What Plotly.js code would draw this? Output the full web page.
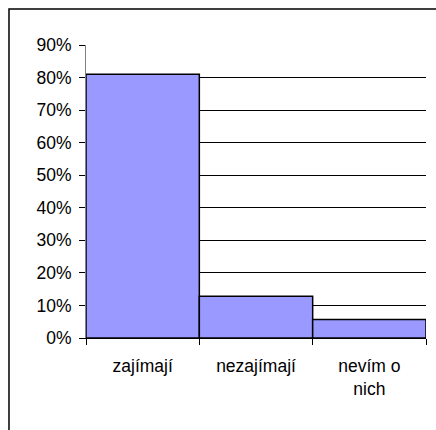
<!DOCTYPE html>
<html>
<head>
<meta charset="utf-8">
<script src="https://cdn.plot.ly/plotly-3.0.1.min.js"></script>
<style>html,body{margin:0;padding:0;background:#fff;}</style>
</head>
<body>
<div id="chart" style="width:436px;height:430px;"></div>
<script>
const categories = ["zajímají", "nezajímají", "nevím o<br>nich"];
const values = [0.81, 0.128, 0.057];
const yTickVals = [0, 0.1, 0.2, 0.3, 0.4, 0.5, 0.6, 0.7, 0.8, 0.9];
const yTickText = ["0%", "10%", "20%", "30%", "40%", "50%", "60%", "70%", "80%", "90%"];

const font = {family: "Liberation Sans, Arial, sans-serif", size: 17.5, color: "#000"};

Plotly.newPlot("chart", [{
  type: "bar",
  x: categories,
  y: values,
  marker: {color: "#9999ff", line: {color: "#000", width: 1.5}},
  hoverinfo: "none"
}], {
  width: 436, height: 430,
  margin: {l: 86, r: 10, t: 45, b: 92},
  paper_bgcolor: "#fff", plot_bgcolor: "#fff",
  bargap: 0,
  showlegend: false,
  font: font,
  xaxis: {
    type: "category",
    tickson: "boundaries",
    ticks: "outside", ticklen: 6, tickcolor: "#000",
    showline: true, linecolor: "#000", linewidth: 1,
    showgrid: false, zeroline: false,
    tickfont: font,
    ticklabelstandoff: 12,
    fixedrange: true
  },
  yaxis: {
    range: [0, 0.9],
    tickvals: yTickVals, ticktext: yTickText,
    ticks: "outside", ticklen: 6, tickcolor: "#000",
    showline: true, linecolor: "#808080", linewidth: 1,
    showgrid: true, gridcolor: "#000", gridwidth: 1,
    zeroline: false,
    tickfont: font,
    ticklabelstandoff: 4,
    fixedrange: true
  },
  shapes: [{
    type: "rect", xref: "paper", yref: "paper",
    x0: -0.2265, x1: 1.2, y0: -0.5, y1: 1.1229,
    line: {color: "#000", width: 1.5}, fillcolor: "rgba(0,0,0,0)", layer: "above"
  }]
}, {displayModeBar: false, staticPlot: true});
</script>
</body>
</html>
